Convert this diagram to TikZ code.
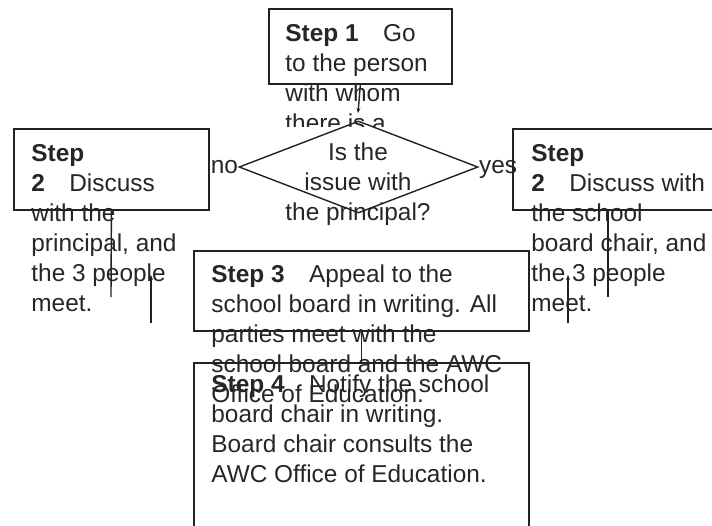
\documentclass[tikz,border=0pt]{standalone}
\usepackage{fontspec}
\setmainfont{Liberation Sans}
\usetikzlibrary{calc}
\usetikzlibrary{shapes.geometric}
\usetikzlibrary{arrows.meta}

\newcommand{\pxu}{0.5pt}
\definecolor{inkline}{HTML}{222222}
\definecolor{inktext}{HTML}{262626}

\tikzset{
  stepbox/.style={draw=inkline, line width=0.9pt, inner sep=0pt, anchor=north west},
  steptext/.style={anchor=north west, inner sep=0pt, align=left, text=inktext},
  linkline/.style={draw=inkline, line width=0.7pt},
  linktip/.style={-{Stealth[length=2.5pt,width=2pt]}}
}

\begin{document}
\begin{tikzpicture}[x=0.5pt,y=-0.5pt]
            \useasboundingbox (0,0) rectangle (712,525);
            \clip (0,0) rectangle (712,525);
            {\fontsize{12.2pt}{15pt}\selectfont

            % Drawing box of step 1
            \node [stepbox, minimum width=183*\pxu, minimum height=75*\pxu] (box1) at (268,8) {};%
            \begin{scope}
              \clip (260,0) rectangle (460,126);
              \node [steptext] (text1) at (285,24.5) {\textbf{Step 1}\hspace{1em}Go\\to the person\\with whom\\there is a};%
            \end{scope}

            % Drawing the question diamond
            \node [diamond, draw=inkline, line width=0.7pt, inner sep=0pt, minimum width=239*\pxu, minimum height=92*\pxu] (question) at (358.5,167) {};%
            \node [anchor=north, inner sep=0pt, align=center, text=inktext] (questiontext) at (358,142.5) {Is the\\issue with\\the principal?};%
            \node [anchor=mid east, inner sep=0pt, text=inktext] (nolabel) at (question.west) {no};%
            \node [anchor=mid west, inner sep=0pt, text=inktext] (yeslabel) at (question.east) {yes};%

            % Drawing box of step 2, left
            \node [stepbox, minimum width=195*\pxu, minimum height=81*\pxu] (box2l) at (13,128) {};%
            \node [steptext] (text2l) at (31,144.5) {\textbf{Step}\\\textbf{2}\hspace{1em}Discuss\\with the\\principal, and\\the 3 people\\meet.};%

            % Drawing box of step 2, right
            \node [stepbox, minimum width=228*\pxu, minimum height=81*\pxu] (box2r) at (512,128) {};%
            \node [steptext] (text2r) at (531,144.5) {\textbf{Step}\\\textbf{2}\hspace{1em}Discuss with\\the school\\board chair, and\\the 3 people\\meet.};%

            % Drawing box of step 3
            \node [stepbox, minimum width=335*\pxu, minimum height=80*\pxu] (box3) at (193,250) {};%
            \node [steptext] (text3) at (211,264.5) {\textbf{Step 3}\hspace{1em}Appeal to the\\school board in writing. All\\parties meet with the\\school board and the AWC\\Office of Education.};%

            % Drawing box of step 4
            \node [stepbox, minimum width=335*\pxu, minimum height=198*\pxu] (box4) at (193,362) {};%
            \node [steptext] (text4) at (211,374.5) {\textbf{Step 4}\hspace{1em}Notify the school\\board chair in writing.\\Board chair consults the\\AWC Office of Education.};%

            % Marking free ends of the links
            \coordinate (qtip) at (358,113);
            \coordinate (lefta) at (111,297);
            \coordinate (leftb top) at (151,275);
            \coordinate (leftb end) at (151,323);
            \coordinate (righta top) at (608,209);
            \coordinate (righta end) at (608,297);
            \coordinate (rightb top) at (568,275);
            \coordinate (rightb end) at (568,323);

            % Drawing the links
            \draw [linkline, linktip] (box1.south) -- (qtip);%
            \draw [linkline] (box2l.south) -- (lefta);%
            \draw [linkline, linktip] (leftb end) -- (leftb top);%
            \draw [linkline] (righta top) -- (righta end);%
            \draw [linkline, linktip] (rightb end) -- (rightb top);%
            \draw [linkline] (box3.south) -- (box4.north);%
            }
        \end{tikzpicture}
\end{document}
